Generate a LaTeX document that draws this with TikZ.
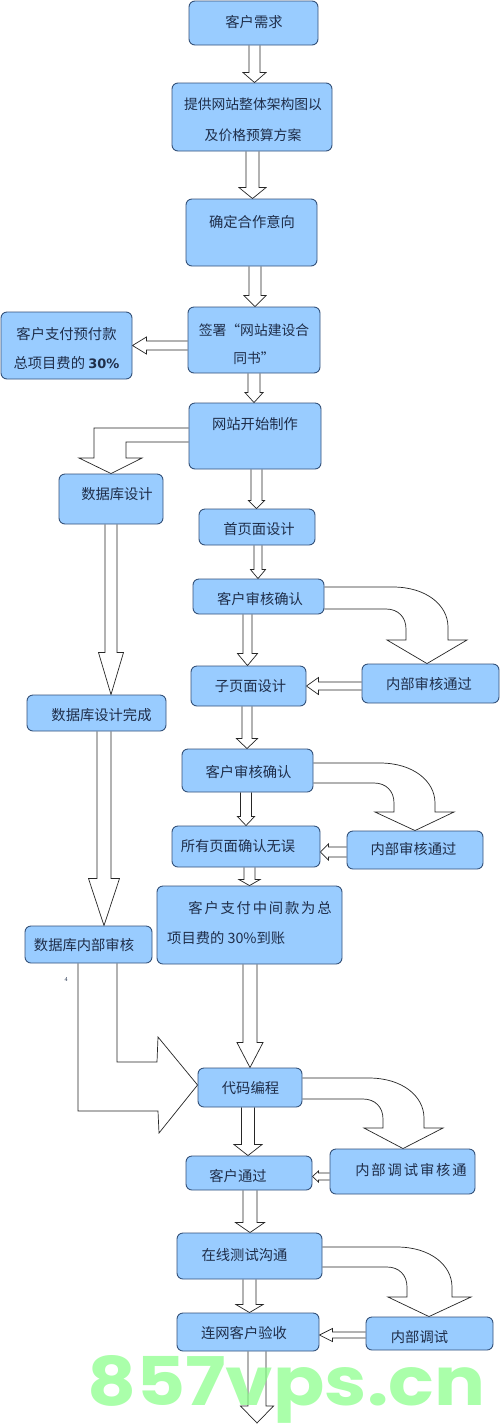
\documentclass[tikz,border=0pt]{standalone}
\usepackage{fontspec}
\usepackage{graphicx}
\setmainfont{Noto Sans CJK SC}
\newfontfamily\djv{DejaVu Sans}
\newfontfamily\wmfont{Poppins}
\newfontfamily\latserif{Liberation Serif}
\usetikzlibrary{calc}
\definecolor{boxfill}{HTML}{99CCFF}
\definecolor{boxline}{HTML}{34527A}
\definecolor{txt}{HTML}{1F2E4A}
\definecolor{wmcol}{HTML}{86FF86}
\newcommand\cjkfs{\fontsize{14.3}{17}\selectfont}
\pgfdeclarelayer{back}
\pgfdeclarelayer{arrows}
\pgfdeclarelayer{front}
\pgfsetlayers{back,arrows,main,front}
\tikzset{
 box/.style={draw=boxline, fill=boxfill, rounded corners=6pt, line width=0.9pt, inner sep=0pt},
 lbl/.style={text=txt, font=\cjkfs, inner sep=0pt, align=center},
 barrow/.style={draw=black!85, fill=white, line width=0.7pt, line join=miter},
}
% vertical block arrow: from, to, x, half shaft, half head, head length
\newcommand\vba[6]{\draw[barrow] let \p1=(#1.south), \p2=(#2.north) in
 ({#3pt-#4pt},\y1) -- ({#3pt-#4pt},{\y2+#6pt}) -- ({#3pt-#5pt},{\y2+#6pt}) -- (#3pt,\y2)
 -- ({#3pt+#5pt},{\y2+#6pt}) -- ({#3pt+#4pt},{\y2+#6pt}) -- ({#3pt+#4pt},\y1);}
% horizontal (leftward) block arrow: from, to, y, half shaft, half head, head length
\newcommand\hba[6]{\draw[barrow] let \p1=(#1.west), \p2=(#2.east) in
 (\x1,{-#3pt+#4pt}) -- ({\x2+#6pt},{-#3pt+#4pt}) -- ({\x2+#6pt},{-#3pt+#5pt}) -- (\x2,-#3pt)
 -- ({\x2+#6pt},{-#3pt-#5pt}) -- ({\x2+#6pt},{-#3pt-#4pt}) -- (\x1,{-#3pt-#4pt});}
% curved block arrow: from, to, y outer, y inner, x outer shaft, x inner shaft, head base y, tip x
\newcommand\cba[8]{\draw[barrow] let \p1=(#1.east), \p2=(#2.north) in
 (\x1,-#3pt) -- ({#5pt-55pt},-#3pt) .. controls ({#5pt-22pt},-#3pt) and (#5pt,{-#3pt-18pt}) .. (#5pt,{-#3pt-40pt})
 -- (#5pt,-#7pt) -- ({#5pt+19pt},-#7pt) -- (#8pt,\y2) -- ({#6pt-19pt},-#7pt) -- (#6pt,-#7pt)
 -- (#6pt,{-#4pt-20pt}) .. controls (#6pt,{-#4pt-8pt}) and ({#6pt-8pt},-#4pt) .. ({#6pt-20pt},-#4pt) -- (\x1,-#4pt);}
\begin{document}
\begin{tikzpicture}[x=1pt,y=-1pt]
\begin{pgfonlayer}{back}
\fill[white] (0,0) rectangle (500,1425);
\end{pgfonlayer}
\useasboundingbox (0,0) rectangle (500,1425);

% boxes
\node[box, minimum width=129pt, minimum height=44pt] (b1) at (253.5,23) {};
\node[box, minimum width=160pt, minimum height=68pt] (b2) at (252,117) {};
\node[box, minimum width=131pt, minimum height=67pt] (b3) at (251.5,232.5) {};
\node[box, minimum width=132pt, minimum height=66pt] (b4) at (254,340) {};
\node[box, minimum width=131pt, minimum height=67pt] (bL) at (66.5,345.5) {};
\node[box, minimum width=132pt, minimum height=66pt] (b5) at (255,436) {};
\node[box, minimum width=104pt, minimum height=50pt] (b6) at (111,499) {};
\node[box, minimum width=116pt, minimum height=36pt] (b7) at (257,527) {};
\node[box, minimum width=131pt, minimum height=35pt] (b8) at (258.5,596.5) {};
\node[box, minimum width=137pt, minimum height=39pt] (b9) at (430.5,683.5) {};
\node[box, minimum width=115pt, minimum height=40pt] (b10) at (248.5,686) {};
\node[box, minimum width=139pt, minimum height=36pt] (b11) at (96.5,713) {};
\node[box, minimum width=131pt, minimum height=43pt] (b12) at (247.5,770.5) {};
\node[box, minimum width=136pt, minimum height=38pt] (b13) at (415,850) {};
\node[box, minimum width=148pt, minimum height=41pt] (b14) at (246,846.5) {};
\node[box, minimum width=185pt, minimum height=78pt] (b15) at (249.5,925) {};
\node[box, minimum width=127pt, minimum height=37pt] (b16) at (88.5,944.5) {};
\node[box, minimum width=104pt, minimum height=39pt] (b17) at (250,1087.5) {};
\node[box, minimum width=126pt, minimum height=34pt] (b18) at (249,1173) {};
\node[box, minimum width=145pt, minimum height=45pt] (b19) at (402.5,1171.5) {};
\node[box, minimum width=145pt, minimum height=46pt] (b20) at (249.5,1256) {};
\node[box, minimum width=127pt, minimum height=33pt] (b21) at (429.5,1333.5) {};
\node[box, minimum width=142pt, minimum height=38pt] (b22) at (248,1332) {};
\node[inner sep=0pt, outer sep=0pt, minimum size=0pt] (endpt) at (257,1423) {};

% texts
\node[lbl] (t1) at (254,22) {客户需求};
\node[lbl, font=\fontsize{13.8}{31}\selectfont] (t2) at (253,119.5) {提供网站整体架构图以\\及价格预算方案};
\node[lbl] (t3) at (252,222) {确定合作意向};
\node[lbl, font=\fontsize{13.8}{28}\selectfont] (t4) at (254,344) {签署“网站建设合\\同书”};
\node[lbl, font=\fontsize{14.3}{29}\selectfont] (tL) at (66.5,348.5) {客户支付预付款\\总项目费的 {\djv\bfseries\fontsize{13}{29}\selectfont 30\%}};
\node[lbl] (t5) at (255,424) {网站开始制作};
\node[lbl] (t6) at (117,494) {数据库设计};
\node[lbl] (t7) at (259,529) {首页面设计};
\node[lbl] (t8) at (260,599) {客户审核确认};
\node[lbl] (t9) at (429,684) {内部审核通过};
\node[lbl] (t10) at (250.5,686) {子页面设计};
\node[lbl] (t11) at (101.5,715) {数据库设计完成};
\node[lbl] (t12) at (248.5,772) {客户审核确认};
\node[lbl] (t13) at (413.5,849) {内部审核通过};
\node[lbl] (t14) at (238,846) {所有页面确认无误};
\node[lbl] (t15a) at (260,908) {客\hspace{1.8pt}户\hspace{1.8pt}支\hspace{1.8pt}付\hspace{1.8pt}中\hspace{1.8pt}间\hspace{1.8pt}款\hspace{1.8pt}为\hspace{1.8pt}总};
\node[lbl, anchor=west] (t15b) at (167,938) {项目费的 30\%到账};
\node[lbl] (t16) at (84,945) {数据库内部审核};
\node[text=txt, inner sep=0pt, font=\latserif\fontsize{6}{7}\selectfont] (t4s) at (66,980) {4};
\node[lbl] (t17) at (250.5,1088) {代码编程};
\node[lbl] (t18) at (238,1176) {客户通过};
\node[lbl] (t19) at (411,1170) {内\hspace{1.9pt}部\hspace{1.9pt}调\hspace{1.9pt}试\hspace{1.9pt}审\hspace{1.9pt}核\hspace{1.9pt}通};
\node[lbl] (t20) at (244.5,1255) {在线测试沟通};
\node[lbl] (t21) at (419.5,1337) {内部调试};
\node[lbl] (t22) at (244,1333) {连网客户验收};

\begin{pgfonlayer}{arrows}
\vba{b1}{b2}{254.5}{5.5}{11.5}{10}
\vba{b2}{b3}{252.5}{6.5}{13.5}{11}
\vba{b3}{b4}{255}{6}{11}{11}
\vba{b4}{b5}{254}{6}{9}{10}
\vba{b5}{b7}{256.5}{5.5}{8}{8}
\vba{b7}{b8}{258}{4}{7.5}{9}
\vba{b8}{b10}{247.5}{4.5}{10}{12}
\vba{b10}{b12}{247}{5}{10.5}{10}
\vba{b12}{b14}{246}{5.5}{8.5}{9}
\vba{b14}{b15}{249.5}{5.5}{10.5}{6}
\vba{b15}{b17}{250}{7}{13}{25}
\vba{b6}{b11}{111}{6}{12.5}{42}
\vba{b11}{b16}{104}{7}{15.5}{47}
\vba{b17}{b18}{248}{6.5}{14}{11}
\vba{b18}{b20}{250}{7}{14.5}{10}
\vba{b20}{b22}{249.5}{6.5}{13.5}{8}
\vba{b22}{endpt}{257}{9}{16.5}{17}
\hba{b4}{bL}{345.5}{4.5}{8.5}{14}
\hba{b9}{b10}{686}{4}{8.5}{12}
\hba{b13}{b14}{852}{5}{8}{8}
\hba{b19}{b18}{1176.5}{3.5}{5.5}{6}
\hba{b21}{b22}{1335}{3}{6.5}{13}
\cba{b8}{b9}{587}{609}{448}{406}{640}{427}
\cba{b12}{b13}{763}{783}{435}{394}{812}{415}
\cba{b17}{b19}{1078}{1099}{424}{383}{1128}{403}
\cba{b20}{b21}{1247}{1267}{452}{407}{1297}{429}
\draw[barrow] let \p1=(b5.west), \p2=(b6.north) in
 (\x1,-428pt) -- (94pt,-428pt) -- (94pt,-458pt) -- (79pt,-458pt) -- (\x2,\y2)
 -- (142pt,-458pt) -- (126pt,-458pt) -- (126pt,-442pt) -- (\x1,-442pt);
\draw[barrow] let \p1=(b16.south), \p2=(b17.west) in
 (78pt,\y1) -- (78pt,-1111pt) -- (158pt,-1111pt) -- (159pt,-1133pt) -- (\x2,-1085pt)
 -- (158pt,-1037pt) -- (157pt,-1062pt) -- (117pt,-1062pt) -- (117pt,\y1);
\end{pgfonlayer}

\begin{pgfonlayer}{front}
\node[anchor=base west, inner sep=0pt, text=wmcol, opacity=0.7] (wm) at (87,1405)
 {\resizebox{398pt}{50pt}{\wmfont\bfseries 857vps.cn}};
\end{pgfonlayer}
\end{tikzpicture}
\end{document}
